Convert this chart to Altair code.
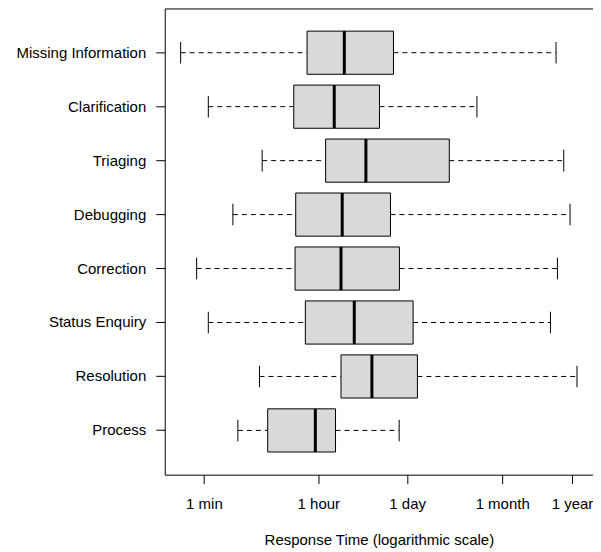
import altair as alt
import pandas as pd

categories = ["Missing Information", "Clarification", "Triaging", "Debugging",
              "Correction", "Status Enquiry", "Resolution", "Process"]
# response times in minutes
whisker_low = [0.435, 1.17, 8.04, 2.82, 0.77, 1.17, 7.3, 3.37]
q1 = [40.1, 24.9, 77.9, 26.7, 26.1, 37.7, 135, 9.8]
median = [152, 106, 329, 141, 135, 217, 408, 53.9]
q3 = [883, 535, 6510, 793, 1093, 1783, 2080, 111]
whisker_high = [297000, 17500, 391000, 490000, 312000, 243000, 628000, 1082]

tick_values = [1, 60, 1440, 43200, 525600]
tick_labels = ["1 min", "1 hour", "1 day", "1 month", "1 year"]

df = pd.DataFrame({
    "category": categories,
    "lo": whisker_low,
    "q1": q1,
    "med": median,
    "q3": q3,
    "hi": whisker_high,
})

expr = "''"
for v, l in reversed(list(zip(tick_values, tick_labels))):
    expr = f"datum.value == {v} ? '{l}' : ({expr})"

FONT = "Liberation Sans"
x_scale = alt.Scale(type="log", domain=[0.246, 1.114e6], nice=False)
x_axis = alt.Axis(values=tick_values, labelExpr=expr, title="Response Time (logarithmic scale)",
                  grid=False, domain=False, tickSize=9, tickColor="black",
                  labelPadding=13, titlePadding=21, labelFontSize=15, titleFontSize=15,
                  labelColor="black", titleColor="black", titleFontWeight="normal",
                  labelFont=FONT, titleFont=FONT)
y_enc = alt.Y("category:N", sort=categories,
              scale=alt.Scale(paddingInner=0.2, paddingOuter=0.42),
              axis=alt.Axis(title=None, domain=False, tickSize=9, tickColor="black",
                            labelPadding=10, labelFontSize=15, labelColor="black",
                            labelFont=FONT, grid=False))

base = alt.Chart(df)

box = base.mark_bar(fill="#d9d9d9", stroke="black", strokeWidth=1, opacity=1).encode(
    x=alt.X("q1:Q", scale=x_scale, axis=x_axis),
    x2="q3:Q",
    y=y_enc,
)
wl = base.mark_rule(color="black", strokeWidth=1, strokeDash=[5, 4], opacity=1).encode(
    x=alt.X("lo:Q", scale=x_scale, axis=x_axis), x2="q1:Q", y=y_enc)
wh = base.mark_rule(color="black", strokeWidth=1, strokeDash=[5, 4], opacity=1).encode(
    x=alt.X("q3:Q", scale=x_scale, axis=x_axis), x2="hi:Q", y=y_enc)
cap_lo = base.mark_tick(color="black", orient="vertical", size=21.6, thickness=1, opacity=1).encode(
    x=alt.X("lo:Q", scale=x_scale, axis=x_axis), y=y_enc)
cap_hi = base.mark_tick(color="black", orient="vertical", size=21.6, thickness=1, opacity=1).encode(
    x=alt.X("hi:Q", scale=x_scale, axis=x_axis), y=y_enc)
med = base.mark_tick(color="black", orient="vertical", size=43.2, thickness=3, opacity=1).encode(
    x=alt.X("med:Q", scale=x_scale, axis=x_axis), y=y_enc)

chart = alt.layer(wl, wh, box, cap_lo, cap_hi, med).properties(
    width=429, height=467,
    autosize="none",
    padding={"left": 157, "top": 0, "right": 0, "bottom": 77},
).configure(font=FONT).configure_view(stroke="black", strokeWidth=1)

chart.save("out.html", embed_options={"renderer": "svg", "actions": False})
